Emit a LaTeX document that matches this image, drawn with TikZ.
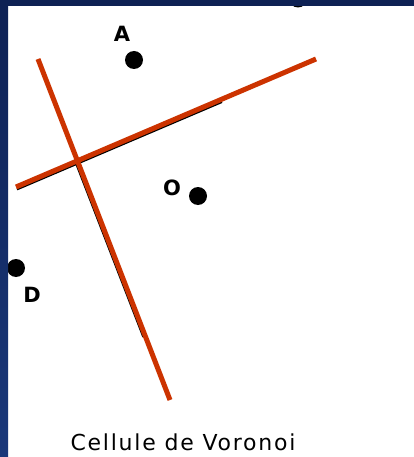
\documentclass[tikz,border=0pt]{standalone}
\usepackage{fontspec}
\setsansfont{DejaVu Sans}
\usepackage{tikz}
\usetikzlibrary{positioning}
\definecolor{VoroNavy}{RGB}{14,33,84}
\definecolor{VoroBlue}{RGB}{26,56,122}
\definecolor{VoroRed}{RGB}{204,51,0}

\begin{document}
\begin{tikzpicture}[x=1pt, y=-1pt,
    site/.style={circle, fill=black, inner sep=0pt, minimum size=18pt},
    sitelabel/.style={font=\sffamily\bfseries\fontsize{21}{21}\selectfont, inner sep=0pt},
    bisector/.style={color=VoroRed, line width=5pt},
    edgeshadow/.style={color=black, line width=2pt}]
    \useasboundingbox (0,0) rectangle (414,457);
    \fill[white] (0,0) rectangle (414,457);
    % sites
    \node[site] (siteTop) at (298,-1.5) {};
    \node[site] (siteA) at (134,60) {};
    \node[site] (siteO) at (198,196) {};
    \node[site] (siteD) at (16,268) {};
    \node[sitelabel] (labelA) at (122,34) {A};
    \node[sitelabel] (labelO) at (172,188) {O};
    \node[sitelabel] (labelD) at (32,295) {D};
    % bisectors of the cell
    \coordinate (bisAB) at (16,187);
    \coordinate (bisAE) at (316,59);
    \coordinate (bisDB) at (38,59);
    \coordinate (bisDE) at (170,400);
    \coordinate (shAB) at (17,189.4);
    \coordinate (shAE) at (222,102);
    \coordinate (shDB) at (76.3,164);
    \coordinate (shDE) at (143.3,337);
    \draw[edgeshadow] (shAB) -- (shAE);
    \draw[edgeshadow] (shDB) -- (shDE);
    \draw[bisector] (bisAB) -- (bisAE);
    \draw[bisector] (bisDB) -- (bisDE);
    \node[font=\sffamily\fontsize{22}{22}\selectfont\addfontfeature{LetterSpace=8}] (caption) at (183,442) {Cellule de Voronoi};
    % frame
    \fill[VoroNavy] (0,0) rectangle (414,6);
    \shade[top color=VoroNavy, bottom color=VoroBlue] (0,0) rectangle (8,457);
  \end{tikzpicture}
\end{document}
